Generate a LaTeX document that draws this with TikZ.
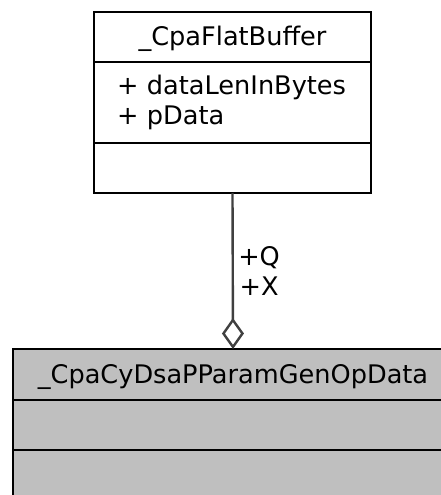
\documentclass[tikz,border=0pt]{standalone}
\usepackage{fontspec}
\setmainfont{DejaVu Sans}
\usetikzlibrary{positioning,arrows.meta}
\definecolor{edgegray}{HTML}{404040}
\definecolor{boxgray}{HTML}{BFBFBF}

\begin{document}
\begin{tikzpicture}[x=1pt,y=1pt,
	every node/.style={font=\fontsize{25.6}{29.4}\selectfont},
	part/.style={draw=black,line width=2.8pt,inner sep=0pt,outer sep=0pt},
	bufpart/.style={part,fill=white,minimum width=277pt},
	oppart/.style={part,fill=boxgray,minimum width=440pt},
	title/.style={text height=24pt,text depth=6pt},
	attrs/.style={align=left,inner xsep=23pt,text width=231pt},
	member/.style={draw=edgegray,line width=2.4pt,
		-{Diamond[open,length=31pt,width=22pt]}}]
	\useasboundingbox (0,0) rectangle (441,-495);
	\clip (0,0) rectangle (441,-495);
	% _CpaFlatBuffer
	\node[bufpart,title,minimum height=50pt] (buf) at (232.5,-37) {\_CpaFlatBuffer};
	\node[bufpart,attrs,minimum height=81pt,below=0pt of buf,yshift=-0pt] (bufattr) {+ dataLenInBytes\\+ pData};
	\node[bufpart,minimum height=50pt,below=0pt of bufattr] (bufops) {};
	% _CpaCyDsaPParamGenOpData
	\node[oppart,title,minimum height=51pt] (op) at (233,-374.5) {\_CpaCyDsaPParamGenOpData};
	\node[oppart,minimum height=50pt,below=0pt of op] (opattr) {};
	\node[oppart,minimum height=50pt,below=0pt of opattr] (opops) {};
	% Q and X members
	\draw[member] (bufops.south) -- (op.north)
		node[pos=0.5,right=1pt,align=center] (role) {+Q\\+X};
\end{tikzpicture}
\end{document}
